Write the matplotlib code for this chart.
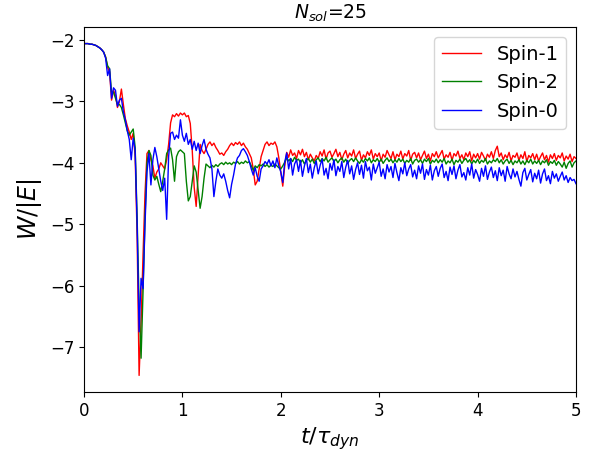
import numpy as np
import matplotlib
matplotlib.use("Agg")
import matplotlib.pyplot as plt

# time axis, t / tau_dyn, sampled every 0.02
t = np.round(np.arange(0, 251) * 0.02, 2)

spin1 = [
    -2.06, -2.06, -2.06, -2.07, -2.07, -2.08, -2.09, -2.11, -2.13, -2.16,
    -2.20, -2.28, -2.45, -2.52, -2.98, -2.82, -2.90, -3.10, -3.00, -2.80,
    -3.05, -3.28, -3.40, -3.50, -3.62, -3.52, -3.90, -5.20, -7.46, -6.60,
    -5.50, -4.50, -3.85, -3.80, -3.95, -4.05, -4.25, -4.15, -4.10, -4.00,
    -4.05, -4.10, -3.95, -3.70, -3.35, -3.22, -3.25, -3.20, -3.24, -3.19,
    -3.22, -3.19, -3.25, -3.23, -3.36, -3.80, -4.40, -4.71, -4.20, -3.70,
    -3.80, -3.85, -3.78, -3.70, -3.66, -3.72, -3.68, -3.75, -3.80, -3.86,
    -3.84, -3.88, -3.82, -3.78, -3.72, -3.68, -3.72, -3.67, -3.70, -3.66,
    -3.72, -3.68, -3.74, -3.78, -3.85, -3.92, -4.10, -4.36, -4.30, -4.10,
    -3.90, -3.80, -3.70, -3.66, -3.72, -3.68, -3.70, -3.66, -3.74, -3.92,
    -4.15, -4.38, -4.05, -3.83, -3.91, -3.79, -3.88, -3.84, -3.93, -3.80,
    -3.87, -3.78, -3.90, -3.83, -3.95, -3.86, -3.92, -3.97, -3.88, -3.93,
    -3.82, -3.89, -3.79, -3.94, -3.84, -3.81, -3.91, -3.85, -3.78, -3.90,
    -3.83, -3.95, -3.86, -3.80, -3.92, -3.84, -3.89, -3.79, -3.93, -3.86,
    -3.81, -3.96, -3.87, -3.92, -3.82, -3.88, -3.79, -3.94, -3.85, -3.90,
    -3.84, -3.97, -3.86, -3.91, -3.80, -3.87, -3.93, -3.82, -3.95, -3.86,
    -3.90, -3.81, -3.94, -3.85, -3.89, -3.80, -3.96, -3.86, -3.83, -3.92,
    -3.84, -3.95, -3.88, -3.81, -3.93, -3.86, -3.97, -3.85, -3.90, -3.82,
    -3.92, -3.86, -3.80, -3.94, -3.87, -3.91, -3.83, -3.96, -3.85, -3.89,
    -3.81, -3.93, -3.87, -3.95, -3.84, -3.90, -3.82, -3.97, -3.86, -3.92,
    -3.85, -3.94, -3.83, -3.89, -3.96, -3.86, -3.91, -3.82, -3.93, -3.80,
    -3.73, -3.90, -3.84, -3.95, -3.87, -3.92, -3.83, -3.97, -3.88, -3.91,
    -3.84, -3.96, -3.87, -3.93, -3.82, -3.98, -3.88, -3.92, -3.85, -3.95,
    -3.86, -3.97, -3.90, -3.84, -3.95, -3.88, -3.99, -3.87, -3.93, -3.85,
    -3.96, -3.88, -3.92, -3.84, -3.97, -3.89, -3.94, -3.86, -3.98, -3.90,
    -3.93,
]

spin2 = [
    -2.06, -2.06, -2.06, -2.07, -2.07, -2.08, -2.09, -2.11, -2.13, -2.16,
    -2.20, -2.28, -2.42, -2.47, -2.85, -2.85, -2.95, -3.05, -3.05, -3.10,
    -3.22, -3.35, -3.48, -3.55, -3.50, -3.45, -3.75, -4.90, -6.30, -7.18,
    -6.10, -4.90, -4.00, -3.80, -3.88, -4.20, -4.28, -4.22, -4.35, -4.47,
    -4.30, -4.10, -3.85, -3.79, -3.76, -3.95, -4.30, -3.90, -3.82, -3.79,
    -3.82, -3.85, -4.30, -4.62, -4.55, -4.30, -4.05, -4.15, -4.45, -4.74,
    -4.55, -4.25, -4.02, -4.05, -4.08, -4.04, -4.07, -4.03, -4.06, -4.02,
    -4.00, -4.03, -3.99, -4.02, -4.00, -4.03, -3.99, -4.01, -3.98, -4.02,
    -3.99, -4.01, -3.97, -4.00, -3.98, -4.05, -4.12, -4.05, -4.08, -4.03,
    -4.05, -4.02, -4.06, -4.03, -4.07, -4.04, -4.06, -4.02, -4.05, -4.08,
    -4.10, -4.05, -3.99, -3.92, -3.97, -3.93, -3.98, -3.91, -3.96, -3.94,
    -4.00, -3.95, -4.02, -3.96, -3.93, -3.99, -3.94, -4.01, -3.95, -3.92,
    -3.98, -3.93, -3.97, -3.91, -3.99, -3.95, -3.92, -3.98, -3.94, -4.00,
    -3.95, -3.92, -3.99, -3.94, -4.01, -3.96, -3.93, -3.98, -3.92, -3.97,
    -4.01, -3.95, -3.99, -3.93, -3.97, -3.92, -4.00, -3.95, -3.98, -3.93,
    -3.99, -3.94, -4.01, -3.96, -3.92, -3.98, -3.94, -4.00, -3.95, -3.99,
    -3.93, -3.98, -3.94, -4.01, -3.96, -3.99, -3.93, -4.02, -3.96, -3.94,
    -3.99, -3.95, -4.01, -3.94, -3.98, -3.93, -4.02, -3.96, -3.99, -3.94,
    -4.00, -3.95, -3.99, -3.93, -4.02, -3.97, -4.00, -3.94, -4.03, -3.96,
    -3.99, -3.94, -4.01, -3.96, -3.93, -3.99, -3.95, -4.02, -3.96, -4.00,
    -3.94, -4.01, -3.96, -3.99, -3.93, -4.02, -3.97, -4.00, -3.95, -3.98,
    -3.93, -4.00, -3.95, -4.02, -3.97, -3.94, -4.01, -3.96, -4.03, -3.97,
    -4.00, -3.95, -4.02, -3.97, -4.03, -3.96, -4.00, -3.94, -4.02, -3.97,
    -4.01, -3.96, -4.03, -3.97, -4.00, -3.95, -4.04, -3.98, -4.01, -3.96,
    -4.04, -3.98, -4.02, -4.07, -3.99, -4.09, -4.01, -3.97, -4.07, -4.00,
    -3.97,
]

spin0 = [
    -2.06, -2.06, -2.06, -2.07, -2.07, -2.08, -2.09, -2.11, -2.13, -2.16,
    -2.20, -2.30, -2.58, -2.47, -2.95, -2.78, -2.82, -3.08, -2.98, -2.95,
    -3.17, -3.30, -3.48, -3.62, -3.95, -3.60, -3.80, -5.00, -6.75, -5.88,
    -6.05, -5.00, -4.15, -3.85, -4.36, -3.95, -3.75, -3.90, -4.10, -4.30,
    -4.45, -4.25, -4.92, -3.90, -3.52, -3.50, -3.62, -3.55, -3.60, -3.30,
    -3.55, -3.65, -3.52, -3.70, -3.62, -3.78, -3.65, -3.80, -3.68, -3.85,
    -3.72, -3.62, -3.78, -3.86, -3.92, -4.10, -4.55, -4.30, -4.10, -4.20,
    -4.25, -4.18, -4.30, -4.45, -4.57, -4.35, -4.20, -4.02, -3.92, -3.88,
    -3.80, -3.77, -3.82, -3.88, -3.98, -4.10, -4.20, -4.08, -4.22, -4.30,
    -4.10, -4.05, -3.98, -4.02, -3.95, -4.05, -3.97, -4.08, -3.92, -4.05,
    -4.15, -4.32, -3.99, -3.84, -4.10, -3.93, -4.20, -4.02, -3.95, -4.14,
    -3.96, -4.22, -4.05, -3.93, -4.16, -4.02, -4.25, -4.08, -3.97, -4.18,
    -4.04, -3.94, -4.20, -4.09, -4.26, -4.01, -4.12, -3.95, -4.21, -4.06,
    -4.14, -3.98, -4.24, -4.07, -3.96, -4.18, -4.05, -4.27, -4.11, -4.00,
    -4.19, -4.04, -4.25, -3.98, -4.13, -4.07, -4.28, -4.02, -4.17, -4.08,
    -3.99, -4.22, -4.10, -4.26, -4.03, -4.15, -4.06, -4.24, -4.01, -4.16,
    -4.29, -4.08, -4.18, -4.00, -4.21, -4.10, -4.03, -4.23, -4.12, -4.26,
    -4.05, -4.17, -4.02, -4.27, -4.11, -4.20, -4.04, -4.28, -4.13, -4.06,
    -4.22, -4.09, -4.02, -4.24, -4.14, -4.29, -4.07, -4.19, -4.05, -4.26,
    -4.12, -4.03, -4.23, -4.16, -4.28, -4.08, -4.20, -4.02, -4.25, -4.11,
    -4.19, -4.30, -4.09, -4.22, -4.05, -4.27, -4.15, -4.07, -4.24, -4.13,
    -4.29, -4.08, -4.21, -4.12, -4.30, -4.06, -4.18, -4.26, -4.10, -4.23,
    -4.14, -4.27, -4.38, -4.16, -4.09, -4.28, -4.19, -4.11, -4.31, -4.17,
    -4.26, -4.12, -4.33, -4.18, -4.10, -4.29, -4.21, -4.34, -4.14, -4.25,
    -4.18, -4.30, -4.22, -4.15, -4.28, -4.21, -4.32, -4.24, -4.29, -4.27,
    -4.34,
]

labels = ["Spin-1", "Spin-2", "Spin-0"]
colors = ["red", "green", "blue"]
xticks = [0, 1, 2, 3, 4, 5]

fig = plt.figure(figsize=(5.95, 4.55), dpi=100)
ax = fig.add_axes([84 / 595, 1 - 392 / 455, (576 - 84) / 595, (392 - 27) / 455])

for y, lab, c in zip([spin1, spin2, spin0], labels, colors):
    ax.plot(t, y, color=c, lw=1.0, label=lab)

ax.set_xlim(0, 5)
ax.set_ylim(-7.73, -1.79)
ax.set_xticks(xticks)
ax.tick_params(labelsize=12)
ax.set_xlabel(r"$t/\tau_{dyn}$", fontsize=16)
ax.set_ylabel(r"$W/|E|$", fontsize=17)
ax.set_title(r"$N_{sol}$=25", fontsize=13.5)
ax.legend(loc="upper right", fontsize=14)

fig.savefig("out.png", dpi=100)
